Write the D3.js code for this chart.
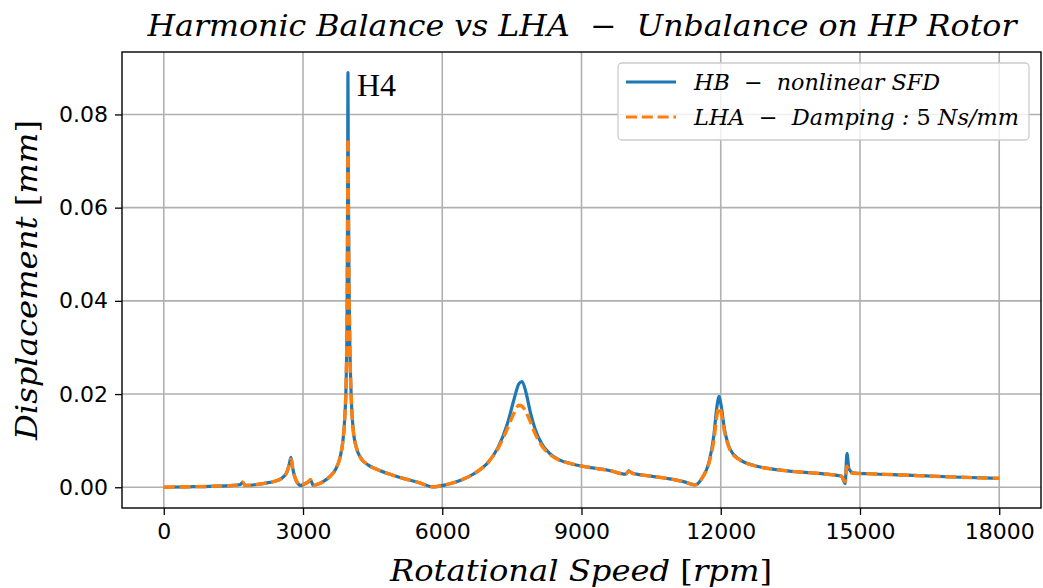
<!DOCTYPE html>
<html>
<head>
<meta charset="utf-8">
<script src="https://cdn.jsdelivr.net/npm/d3@7"></script>
<style>
  body { margin: 0; background: #fff; }
  svg { display: block; }
  .tick text { font-family: "DejaVu Sans", sans-serif; font-size: 22px; fill: #000; }
  .lbl { font-family: "DejaVu Serif", serif; font-style: italic; fill: #000; }
  .up { font-style: normal; }
</style>
</head>
<body>
<svg id="chart" width="1043" height="588"></svg>
<script>
// rotational speed samples [rpm]
const speeds = [0, 500, 1000, 1500, 1650, 1700, 1750, 1800, 2000, 2200, 2400, 2550, 2650, 2700, 2740, 2780,
  2850, 2950, 3050, 3120, 3160, 3220, 3300, 3450, 3600, 3700, 3800, 3860, 3900, 3930, 3950, 3962, 3968,
  3975, 3990, 4010, 4040, 4080, 4150, 4250, 4400, 4600, 4900, 5200, 5500, 5800, 6100, 6400, 6700, 7000,
  7200, 7400, 7550, 7650, 7720, 7800, 7900, 8000, 8150, 8300, 8500, 8800, 9200, 9600, 9950, 10020, 10100,
  10500, 10900, 11200, 11450, 11600, 11750, 11850, 11920, 11960, 12000, 12080, 12200, 12400, 12700, 13200,
  13800, 14300, 14600, 14680, 14720, 14760, 14850, 15200, 16000, 17000, 18000];

// HB - nonlinear SFD displacement [mm]
const hbValues = [0.0000, 0.0001, 0.0002, 0.0004, 0.0006, 0.0011, 0.0004, 0.0004, 0.0006, 0.0009, 0.0013, 0.0020,
  0.0032, 0.0048, 0.0064, 0.0040, 0.0015, 0.0004, 0.0008, 0.0012, 0.0016, 0.0004, 0.0006, 0.0013, 0.0025,
  0.0038, 0.0065, 0.0100, 0.0150, 0.0230, 0.0380, 0.0650, 0.0890, 0.0700, 0.0450, 0.0300, 0.0190, 0.0125,
  0.0085, 0.0062, 0.0048, 0.0038, 0.0027, 0.0018, 0.0010, 0.0001, 0.0006, 0.0015, 0.0030, 0.0055, 0.0085,
  0.0135, 0.0190, 0.0222, 0.0227, 0.0205, 0.0160, 0.0125, 0.0092, 0.0074, 0.0060, 0.0050, 0.0042, 0.0036,
  0.0028, 0.0035, 0.0030, 0.0024, 0.0018, 0.0012, 0.0005, 0.0020, 0.0055, 0.0110, 0.0175, 0.0195, 0.0180,
  0.0125, 0.0082, 0.0060, 0.0047, 0.0038, 0.0032, 0.0028, 0.0024, 0.0008, 0.0073, 0.0040, 0.0031, 0.0029,
  0.0026, 0.0022, 0.0019];

// LHA - damping 5 Ns/mm displacement [mm]
const lhaValues = [0.0000, 0.0001, 0.0002, 0.0004, 0.0006, 0.0011, 0.0004, 0.0004, 0.0006, 0.0009, 0.0013, 0.0020,
  0.0032, 0.0047, 0.0060, 0.0039, 0.0015, 0.0004, 0.0008, 0.0012, 0.0016, 0.0004, 0.0006, 0.0013, 0.0025,
  0.0038, 0.0065, 0.0100, 0.0150, 0.0230, 0.0370, 0.0580, 0.0749, 0.0620, 0.0430, 0.0295, 0.0188, 0.0124,
  0.0085, 0.0062, 0.0048, 0.0038, 0.0027, 0.0018, 0.0010, 0.0001, 0.0006, 0.0015, 0.0030, 0.0055, 0.0083,
  0.0125, 0.0160, 0.0176, 0.0174, 0.0162, 0.0140, 0.0115, 0.0088, 0.0072, 0.0059, 0.0050, 0.0042, 0.0036,
  0.0028, 0.0034, 0.0030, 0.0024, 0.0018, 0.0012, 0.0005, 0.0020, 0.0053, 0.0100, 0.0155, 0.0172, 0.0165,
  0.0120, 0.0080, 0.0059, 0.0047, 0.0038, 0.0032, 0.0028, 0.0024, 0.0012, 0.0045, 0.0035, 0.0030, 0.0029,
  0.0026, 0.0022, 0.0019];

const xTicks = [0, 3000, 6000, 9000, 12000, 15000, 18000];
const yTicks = [0.00, 0.02, 0.04, 0.06, 0.08];

// label pieces: [text, upright?]
const seriesNames = [
  [["HB  −  nonlinear SFD", false]],
  [["LHA  −  Damping : ", false], ["5", true], [" Ns/mm", false]]
];
const xLabelParts = [["Rotational Speed ", false], ["[", true], ["rpm", false], ["]", true]];
const yLabelParts = [["Displacement ", false], ["[", true], ["mm", false], ["]", true]];

const svg = d3.select("#chart");
const plotLeft = 122, plotRight = 1041, plotTop = 52, plotBottom = 508;

const x = d3.scaleLinear().domain([-900, 18900]).range([plotLeft, plotRight]);
const y = d3.scaleLinear().domain([-0.00445, 0.0934]).range([plotBottom, plotTop]);

// grid
svg.append("g").selectAll("line").data(xTicks).join("line")
    .attr("x1", d => x(d)).attr("x2", d => x(d)).attr("y1", plotTop).attr("y2", plotBottom)
    .attr("stroke", "#b0b0b0").attr("stroke-width", 1.6);
svg.append("g").selectAll("line").data(yTicks).join("line")
    .attr("y1", d => y(d)).attr("y2", d => y(d)).attr("x1", plotLeft).attr("x2", plotRight)
    .attr("stroke", "#b0b0b0").attr("stroke-width", 1.6);

svg.append("defs").append("clipPath").attr("id", "clip")
    .append("rect").attr("x", plotLeft).attr("y", plotTop)
    .attr("width", plotRight - plotLeft).attr("height", plotBottom - plotTop);

const line = vals => d3.line()
    .x((d, i) => x(speeds[i]))
    .y(d => y(d))
    .curve(d3.curveMonotoneX)(vals);

const plot = svg.append("g").attr("clip-path", "url(#clip)");
plot.append("path").attr("d", line(hbValues))
    .attr("fill", "none").attr("stroke", "#1f77b4").attr("stroke-width", 3.2)
    .attr("stroke-linejoin", "round");
plot.append("path").attr("d", line(lhaValues))
    .attr("fill", "none").attr("stroke", "#ff7f0e").attr("stroke-width", 3.4)
    .attr("stroke-dasharray", "11,4.8");

// axes
const xAxis = svg.append("g").attr("transform", `translate(0,${plotBottom})`)
    .call(d3.axisBottom(x).tickValues(xTicks).tickFormat(d3.format("d")).tickSize(7).tickPadding(8));
const yAxis = svg.append("g").attr("transform", `translate(${plotLeft},0)`)
    .call(d3.axisLeft(y).tickValues(yTicks).tickFormat(d3.format(".2f")).tickSize(7).tickPadding(7));
[xAxis, yAxis].forEach(a => {
    a.select(".domain").remove();
    a.selectAll(".tick line").attr("stroke", "#000").attr("stroke-width", 1.3);
});

svg.append("rect").attr("x", plotLeft).attr("y", plotTop)
    .attr("width", plotRight - plotLeft).attr("height", plotBottom - plotTop)
    .attr("fill", "none").attr("stroke", "#000").attr("stroke-width", 1.4);

// peak annotation
svg.append("text").attr("x", 357).attr("y", 96)
    .attr("font-family", "Liberation Serif, serif").attr("font-size", 32).text("H4");

function addParts(sel, parts) {
    parts.forEach(([t, upright]) => sel.append("tspan").classed("up", upright).text(t));
    return sel;
}

// titles
svg.append("text").attr("class", "lbl").attr("x", 582).attr("y", 36)
    .attr("text-anchor", "middle").attr("font-size", 29)
    .attr("textLength", 869).attr("lengthAdjust", "spacingAndGlyphs")
    .style("white-space", "pre")
    .text("Harmonic Balance vs LHA  −  Unbalance on HP Rotor");

addParts(svg.append("text").attr("class", "lbl").attr("x", 581).attr("y", 581)
    .attr("text-anchor", "middle").attr("font-size", 30)
    .attr("textLength", 382).attr("lengthAdjust", "spacingAndGlyphs"), xLabelParts);

addParts(svg.append("text").attr("class", "lbl")
    .attr("transform", "translate(37,280) rotate(-90)")
    .attr("text-anchor", "middle").attr("font-size", 30)
    .attr("textLength", 320).attr("lengthAdjust", "spacingAndGlyphs"), yLabelParts);

// legend
const legend = svg.append("g");
legend.append("rect").attr("x", 618).attr("y", 63).attr("width", 411).attr("height", 77)
    .attr("rx", 4).attr("fill", "#fff").attr("fill-opacity", 0.8)
    .attr("stroke", "#cccccc").attr("stroke-width", 1.3);
const legendColors = ["#1f77b4", "#ff7f0e"];
const legendWidths = [246, 325];
seriesNames.forEach((parts, i) => {
    const ly = 82 + i * 35;
    legend.append("line").attr("x1", 626).attr("x2", 676).attr("y1", ly).attr("y2", ly)
        .attr("stroke", legendColors[i]).attr("stroke-width", 3.2)
        .attr("stroke-dasharray", i === 1 ? "11,4.8" : null);
    addParts(legend.append("text").attr("class", "lbl").attr("x", 694).attr("y", ly + 8)
        .attr("font-size", 22).style("white-space", "pre")
        .attr("textLength", legendWidths[i]).attr("lengthAdjust", "spacingAndGlyphs"), parts);
});
</script>
</body>
</html>
